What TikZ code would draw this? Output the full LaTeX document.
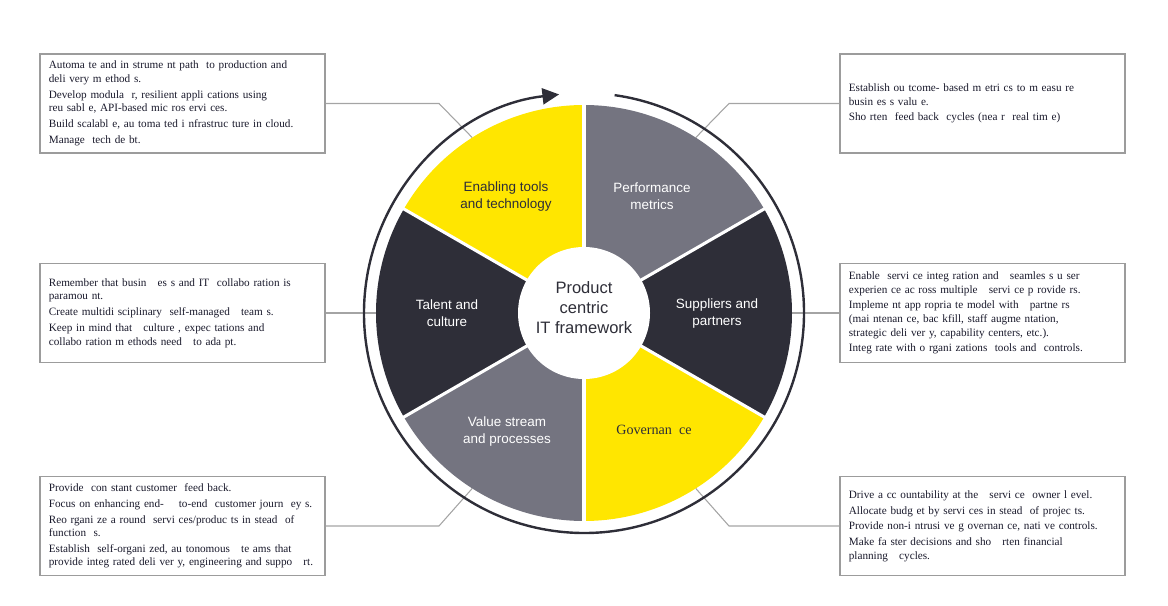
\documentclass[tikz,border=0pt]{standalone}
\usepackage{fontspec}
\setmainfont{Liberation Serif}
\newfontfamily\labelfont{Liberation Sans}
\usetikzlibrary{arrows.meta,calc}
\definecolor{eyyellow}{HTML}{FFE600}
\definecolor{eygray}{HTML}{747480}
\definecolor{eydark}{HTML}{2E2E38}
\definecolor{boxline}{HTML}{9C9C9C}
\definecolor{connline}{HTML}{A4A4A4}
\definecolor{boxtext}{HTML}{1A1A2C}
\begin{document}
\begin{tikzpicture}[x=0.75pt,y=-0.75pt,
  infobox/.style={draw=boxline, line width=1.1pt, fill=white,
    minimum width=213.75pt, minimum height=74.5pt, inner sep=0pt,
    text width=200.5pt, align=left, text=boxtext,
    font=\fontsize{8.4}{10.2}\selectfont},
  conn/.style={draw=connline, line width=0.8pt},
  wlabel/.style={align=center, font=\labelfont\fontsize{10.1}{12.8}\selectfont}
]
\useasboundingbox (0,0) rectangle (1168,606);
\coordinate (C) at (584,313);

% connector bends and ends
\coordinate (k1) at (439,103.5);
\coordinate (k2) at (729,103.5);
\coordinate (k5) at (439,526);
\coordinate (k6) at (729,526);
\coordinate (e1) at ($(C)+(-122.5:208)$);
\coordinate (e2) at ($(C)+(-57.5:208)$);
\coordinate (e3) at ($(C)+(180:208)$);
\coordinate (e4) at ($(C)+(0:208)$);
\coordinate (e5) at ($(C)+(122.5:208)$);
\coordinate (e6) at ($(C)+(57.5:208)$);

% boxes
\node[infobox] (b1) at (182.5,103.5) {Automa te and in strume nt path\ \ to production and\\
deli very m ethod s.\\[1.6pt]
Develop modula\ \ r, resilient appli cations using\\
reu sabl e, API-based mic ros ervi ces.\\[1.6pt]
Build scalabl e, au toma ted i nfrastruc ture in cloud.\\[1.6pt]
Manage\ \ tech de bt.};

\node[infobox] (b2) at (982.5,103.5) {Establish ou tcome- based m etri cs to m easu re\\
busin es s valu e.\\[1.6pt]
Sho rten\ \ feed back\ \ cycles (nea r\ \ real tim e)};

\node[infobox] (b3) at (182.5,313) {Remember that busin\quad es s and IT\ \ collabo ration is\\
paramou nt.\\[1.6pt]
Create multidi sciplinary\ \ self-managed\ \ \ team s.\\[1.6pt]
Keep in mind that\ \ \ culture , expec tations and\\
collabo ration m ethods need\ \ \ to ada pt.};

\node[infobox] (b4) at (982.5,313) {Enable\ \ servi ce integ ration and\ \ \ seamles s u ser\\
experien ce ac ross multiple\ \ \ servi ce p rovide rs.\\[1.6pt]
Impleme nt app ropria te model with\ \ \ partne rs\\
(mai ntenan ce, bac kfill, staff augme ntation,\\
strategic deli ver y, capability centers, etc.).\\[1.6pt]
Integ rate with o rgani zations\ \ tools and\ \ controls.};

\node[infobox] (b5) at (182.5,526) {Provide\ \ con stant customer\ \ feed back.\\[1.6pt]
Focus on enhancing end-\ \ \ \ to-end\ \ customer journ\ \ ey s.\\[1.6pt]
Reo rgani ze a round\ \ servi ces/produc ts in stead\ \ of\\
function\ \ s.\\[1.6pt]
Establish\ \ self-organi zed, au tonomous\ \ \ te ams that\\
provide integ rated deli ver y, engineering and suppo\quad rt.};

\node[infobox] (b6) at (982.5,526) {Drive a cc ountability at the\ \ \ servi ce\ \ owner l evel.\\[1.6pt]
Allocate budg et by servi ces in stead\ \ of projec ts.\\[1.6pt]
Provide non-i ntrusi ve g overnan ce, nati ve controls.\\[1.6pt]
Make fa ster decisions and sho\quad rten financial\\
planning\ \ \ cycles.};

% connectors
\draw[conn] (b1.east) -- (k1) -- (e1);
\draw[conn] (b2.west) -- (k2) -- (e2);
\draw[conn] (b3.east) -- (e3);
\draw[conn] (b4.west) -- (e4);
\draw[conn] (b5.east) -- (k5) -- (e5);
\draw[conn] (b6.west) -- (k6) -- (e6);

% sectors
\foreach \a/\b/\col in {-150/-90/eyyellow, -90/-30/eygray, -30/30/eydark, 30/90/eyyellow, 90/150/eygray, 150/210/eydark}
  \fill[\col] (C) -- ($(C)+(\a:208)$) arc[start angle=\a, end angle=\b, radius=208] -- cycle;
\foreach \a in {-150,-90,-30,30,90,150}
  \draw[white, line width=2.3pt] (C) -- ($(C)+(\a:212)$);
\fill[white] (C) circle[radius=66];

% outer ring with arrow
\draw[eydark, line width=1.8pt, -{Triangle[length=12.5pt,width=12pt]}]
  ($(C)+(-82:220)$) arc[start angle=-82, end angle=263.5, radius=220];

% labels
\node[wlabel, text=eydark] (l1) at (506,196.5) {Enabling tools\\and technology};
\node[wlabel, text=white] (l2) at (652,196.5) {Performance\\metrics};
\node[wlabel, text=white] (l3) at (447,313.5) {Talent and\\culture};
\node[wlabel, text=white] (l4) at (717,313.5) {Suppliers and\\partners};
\node[wlabel, text=white] (l5) at (507,431.5) {Value stream\\and processes};
\node[text=eydark, font=\fontsize{10.6}{13}\selectfont] (l6) at (654,430) {Governan\ \ ce};
\node[align=center, text=eydark, font=\labelfont\fontsize{12.4}{15}\selectfont] (ctr) at (584,308) {Product\\centric\\IT framework};
\end{tikzpicture}
\end{document}
